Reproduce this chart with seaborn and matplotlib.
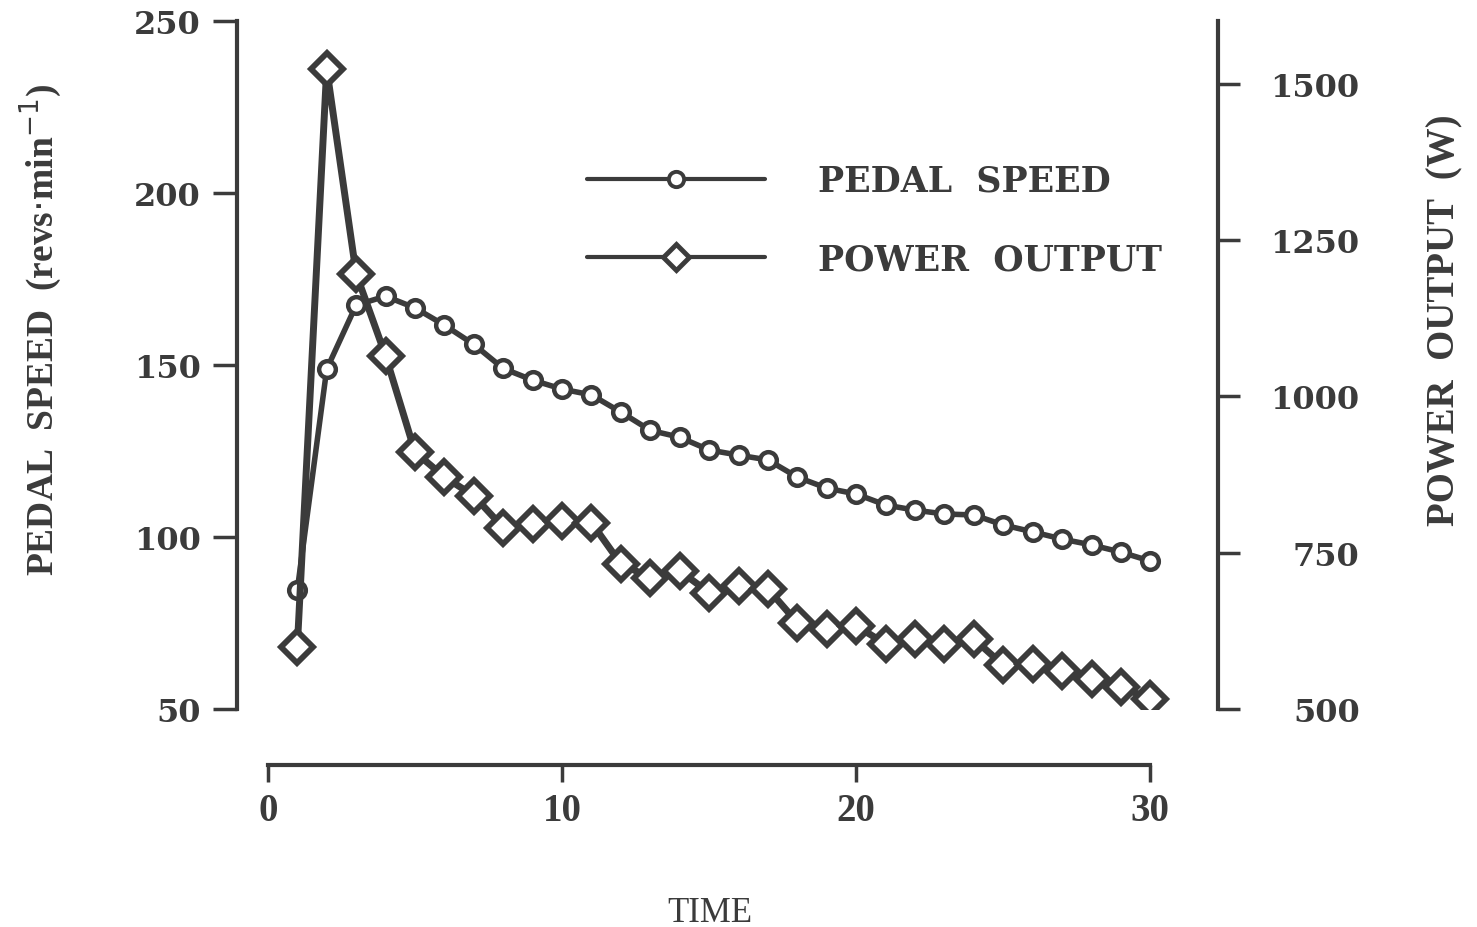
import matplotlib
matplotlib.use("Agg")
import matplotlib.pyplot as plt
from matplotlib.lines import Line2D
import seaborn as sns

# values
time = list(range(1, 31))
pedal_speed = [84.6, 148.8, 167.4, 170.0, 166.6, 161.6, 156.0, 149.0, 145.6, 143.0,
               141.3, 136.3, 131.0, 129.0, 125.3, 123.8, 122.4, 117.4, 114.2, 112.5,
               109.3, 107.8, 106.7, 106.4, 103.5, 101.5, 99.4, 97.7, 95.6, 93.0]
power_output = [599, 1524, 1196, 1065, 911, 871, 841, 790, 796, 801,
                798, 732, 710, 721, 686, 697, 692, 638, 628, 633,
                604, 612, 604, 612, 570, 572, 561, 548, 535, 516]
speed_ticks = [50, 100, 150, 200, 250]
power_ticks = [500, 750, 1000, 1250, 1500]
time_ticks = [0, 10, 20, 30]

ink = "#3b3b3b"
sns.set_style("ticks")
plt.rcParams["font.family"] = ["DejaVu Serif"]

fig = plt.figure(figsize=(14.77, 9.28), dpi=100)
ax = fig.add_axes([237 / 1477, 1 - 710 / 928, (1218 - 237) / 1477, 688 / 928])
ax2 = ax.twinx()

sns.lineplot(x=time, y=pedal_speed, ax=ax, color=ink, lw=4, marker="o",
             markersize=12, markerfacecolor="white", markeredgecolor=ink,
             markeredgewidth=3.2, zorder=3)
sns.lineplot(x=time, y=power_output, ax=ax2, color=ink, lw=5, marker="D",
             markersize=16, markerfacecolor="white", markeredgecolor=ink,
             markeredgewidth=4.2, zorder=3)

ax.set_xlim(-1.05, 32.3)
ax.set_ylim(50, 250)
ax2.set_ylim(500, 1600)

for s in ["top", "right"]:
    ax.spines[s].set_visible(False)
for s in ["top", "left", "bottom"]:
    ax2.spines[s].set_visible(False)
for sp in [ax.spines["left"], ax.spines["bottom"], ax2.spines["right"]]:
    sp.set_linewidth(3)
    sp.set_color(ink)
ax.spines["bottom"].set_position(("outward", 40))
ax.spines["bottom"].set_bounds(0, 30)
ax2.spines["right"].set_bounds(500, 1600)

ax.set_yticks(speed_ticks)
ax2.set_yticks(power_ticks)
ax.set_xticks(time_ticks)

ytick_font = dict(family="DejaVu Serif", weight="bold", size=23)
ax.set_yticklabels([str(v) for v in speed_ticks], fontdict=ytick_font, color=ink)
ax2.set_yticklabels([str(v) for v in power_ticks], fontdict=ytick_font, color=ink,
                    ha="right")
ax.set_xticklabels([str(v) for v in time_ticks], family="Liberation Serif",
                   weight="bold", size=28, color=ink)

ax.tick_params(axis="y", direction="out", length=17, width=2.5, color=ink, pad=9)
ax2.tick_params(axis="y", direction="out", length=16, width=2.5, color=ink, pad=86)
ax.tick_params(axis="x", direction="out", length=12, width=2.5, color=ink, pad=8)

ax.set_ylabel("PEDAL  SPEED  (revs$\\cdot$min$^{-1}$)", family="Liberation Serif",
              weight="bold", size=27, color=ink, labelpad=50)
ax2.set_ylabel("POWER  OUTPUT  (W)", family="Liberation Serif", weight="bold",
               size=28, color=ink, labelpad=48)
ax.yaxis.label.set_y(0.552)
ax2.yaxis.label.set_y(0.567)
ax.set_xlabel("TIME", family="Liberation Serif", size=25, color=ink, labelpad=48)
ax.xaxis.label.set_x(0.482)

handles = [
    Line2D([], [], color=ink, lw=3, marker="o", markersize=11,
           markerfacecolor="white", markeredgecolor=ink, markeredgewidth=2.8),
    Line2D([], [], color=ink, lw=3, marker="D", markersize=13,
           markerfacecolor="white", markeredgecolor=ink, markeredgewidth=3.5),
]
leg = ax2.legend(handles, ["PEDAL  SPEED", "POWER  OUTPUT"], loc="upper left",
                 bbox_to_anchor=(587 / 1477, 1 - 165 / 928),
                 bbox_transform=fig.transFigure, frameon=False, borderpad=0,
                 borderaxespad=0, handlelength=5.13, handletextpad=1.53,
                 labelspacing=1.28, numpoints=1,
                 prop=dict(family="DejaVu Serif", weight="bold", size=25))
for t in leg.get_texts():
    t.set_color(ink)

fig.savefig("out.png", dpi=100)
